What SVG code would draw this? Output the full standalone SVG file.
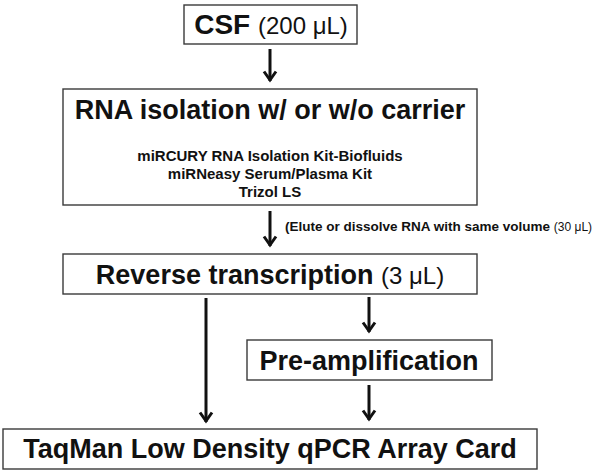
<svg xmlns="http://www.w3.org/2000/svg" width="601" height="475" viewBox="0 0 601 475">
<defs>
<style>
.box{fill:#fff;stroke:#3a3a3a;stroke-width:1.4}
.t{font-family:"Liberation Sans",Arial,sans-serif;fill:#111;}
.b{font-weight:bold}
.r{font-weight:normal}
.c{text-anchor:middle}
.conn{stroke:#111;stroke-width:3;fill:none}
</style>
<marker id="ah" markerUnits="userSpaceOnUse" markerWidth="16" markerHeight="14" viewBox="0 0 16 14" refX="8" refY="12" orient="0">
<path d="M2,2.5 L8,11 L14,2.5" fill="none" stroke="#111" stroke-width="3" stroke-linejoin="miter"/>
</marker>
</defs>
<rect width="601" height="475" fill="#fff"/>
<g id="connectors">
<path class="conn" d="M270,49 V81" marker-end="url(#ah)"/>
<path class="conn" d="M270,211 V246" marker-end="url(#ah)"/>
<path class="conn" d="M206,298 V422" marker-end="url(#ah)"/>
<path class="conn" d="M369,297 V332" marker-end="url(#ah)"/>
<path class="conn" d="M369,385 V420" marker-end="url(#ah)"/>
<text class="t b" x="285" y="231" font-size="13.5">(Elute or dissolve RNA with same volume <tspan class="r" font-size="12">(30 μL)</tspan></text>
</g>
<g id="csf">
<rect class="box" x="184" y="5" width="173" height="39"/>
<text class="t b c" x="271" y="34" font-size="28">CSF <tspan class="r" font-size="24">(200 μL)</tspan></text>
</g>
<g id="rna-isolation">
<rect class="box" x="63" y="89" width="414" height="116"/>
<text class="t b c" x="270" y="119" font-size="27">RNA isolation w/ or w/o carrier</text>
<text class="t b c" x="270" y="161" font-size="15">miRCURY RNA Isolation Kit-Biofluids</text>
<text class="t b c" x="270" y="179" font-size="15">miRNeasy Serum/Plasma Kit</text>
<text class="t b c" x="270" y="197" font-size="15">Trizol LS</text>
</g>
<g id="reverse-transcription">
<rect class="box" x="63" y="254" width="414" height="40"/>
<text class="t b c" x="270" y="284" font-size="27">Reverse transcription <tspan class="r" font-size="24">(3 μL)</tspan></text>
</g>
<g id="pre-amplification">
<rect class="box" x="247" y="340" width="245" height="40"/>
<text class="t b c" x="369" y="370" font-size="27">Pre-amplification</text>
</g>
<g id="taqman">
<rect class="box" x="3" y="429" width="534" height="40"/>
<text class="t b c" x="270" y="458" font-size="27">TaqMan Low Density qPCR Array Card</text>
</g>
</svg>
